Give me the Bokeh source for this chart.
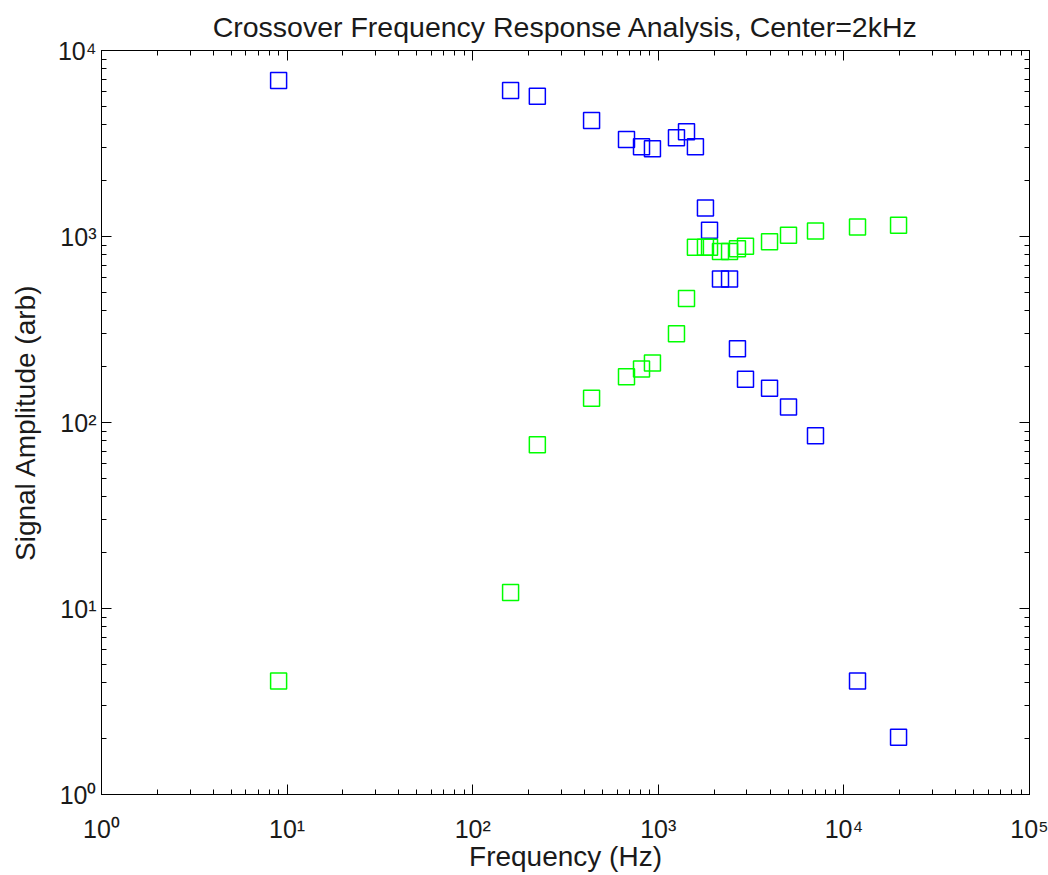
from bokeh.plotting import figure
from bokeh.models import LogAxis, LogTicker, CustomJSTickFormatter
from bokeh.embed import file_html
from bokeh.resources import INLINE

# ---- data ----
freq_hz = [9, 160, 223, 437, 674, 812, 930, 1253, 1419, 1585, 1795, 1888,
           2163, 2420, 2670, 2950, 3975, 5030, 7030, 11840, 19700]
low_pass = [6900, 6100, 5670, 4200, 3320, 3040, 2966, 3400, 3660, 3040, 1422, 1082,
            590, 590, 249, 171, 153, 121, 85, 4.08, 2.03]
high_pass = [4.08, 12.2, 76, 135, 176, 194, 209, 300, 464, 875, 875, 875,
             830, 830, 860, 887, 937, 1016, 1070, 1125, 1150]

x_ticks = [1, 10, 100, 1000, 10000, 100000]
x_tick_labels = ["10\u2070", "10\u00b9", "10\u00b2", "10\u00b3", "10\u2074", "10\u2075"]
y_ticks = [1, 10, 100, 1000, 10000]
y_tick_labels = ["10\u2070", "10\u00b9", "10\u00b2", "10\u00b3", "10\u2074"]

title_text = "Crossover Frequency Response Analysis, Center=2kHz"
x_label = "Frequency (Hz)"
y_label = "Signal Amplitude (arb)"

FONT = "Liberation Sans"
INK = "#1a1a1a"

p = figure(width=1048, height=875, x_axis_type="log", y_axis_type="log",
           x_range=(1, 1e5), y_range=(1, 1e4),
           output_backend="svg", toolbar_location=None,
           min_border_left=101, min_border_right=19,
           min_border_top=50, min_border_bottom=81)

p.title.text = title_text
p.title.align = "center"
p.title.text_font = FONT
p.title.text_font_size = "28.5px"
p.title.text_font_style = "normal"
p.title.text_color = INK
p.title.standoff = 16

p.xgrid.visible = False
p.ygrid.visible = False
p.outline_line_color = "black"
p.outline_line_width = 1
p.background_fill_color = "white"
p.border_fill_color = "white"


def style_axis(axis):
    axis.ticker = LogTicker(num_minor_ticks=10)
    axis.major_tick_in = 10
    axis.major_tick_out = 0
    axis.minor_tick_in = 5
    axis.minor_tick_out = 0
    axis.axis_line_color = "black"
    axis.axis_line_width = 1
    axis.major_tick_line_color = "black"
    axis.minor_tick_line_color = "black"
    axis.major_label_text_font = FONT
    axis.major_label_text_font_size = "25px"
    axis.major_label_text_color = INK
    axis.axis_label_text_font = FONT
    axis.axis_label_text_font_size = "28px"
    axis.axis_label_text_font_style = "normal"
    axis.axis_label_text_color = INK


xa = p.xaxis[0]
style_axis(xa)
xa.major_label_overrides = dict(zip(x_ticks, x_tick_labels))
xa.major_label_standoff = 20
xa.axis_label = x_label
xa.axis_label_standoff = -5

ya = p.yaxis[0]
style_axis(ya)
ya.major_label_overrides = dict(zip(y_ticks, y_tick_labels))
ya.major_label_standoff = 5
ya.axis_label = y_label
ya.axis_label_standoff = 14

blank = CustomJSTickFormatter(code="return ''")
for side in ("right", "above"):
    ax = LogAxis()
    style_axis(ax)
    ax.formatter = blank
    ax.major_label_standoff = 0
    ax.major_label_text_font_size = "1px"
    p.add_layout(ax, side)

p.scatter(freq_hz, low_pass, marker="square", size=16, fill_color=None,
          line_color="#0000ff", line_width=1.5)
p.scatter(freq_hz, high_pass, marker="square", size=16, fill_color=None,
          line_color="#00ff00", line_width=1.5)

open("out.html", "w").write(file_html(p, INLINE))
